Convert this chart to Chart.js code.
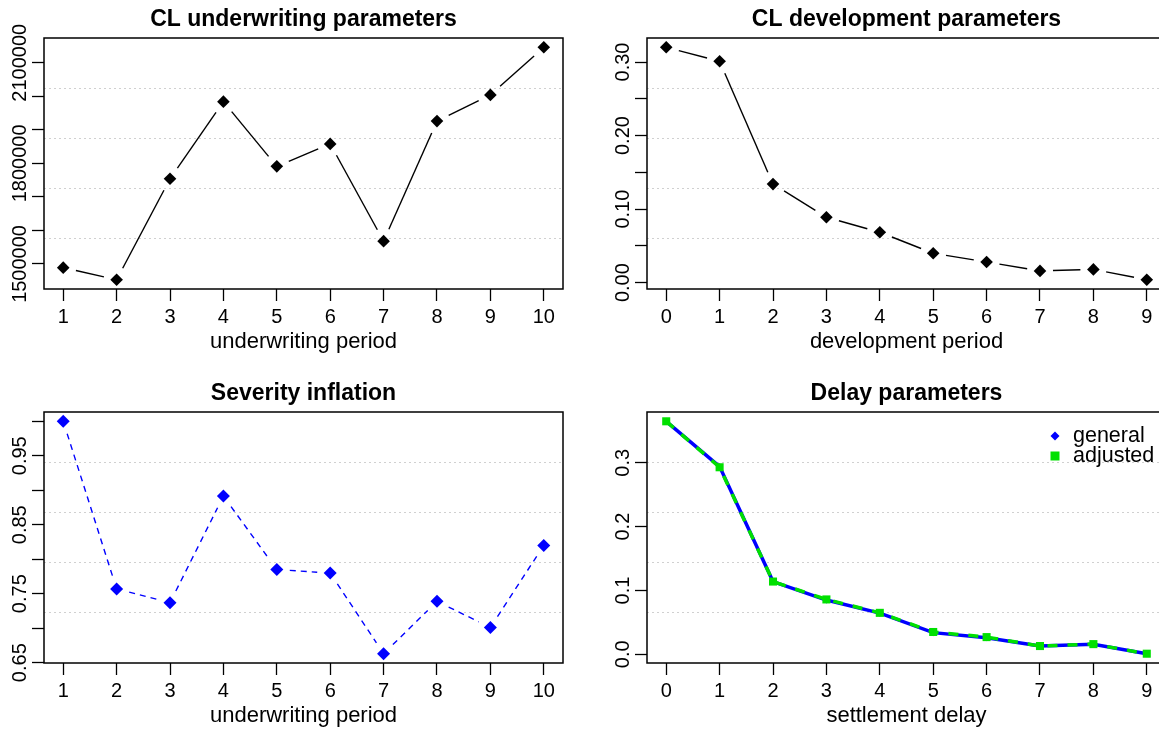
<!DOCTYPE html>
<html>
<head>
<meta charset="utf-8">
<script src="https://cdn.jsdelivr.net/npm/chart.js@4.4.1/dist/chart.umd.min.js"></script>
<style>
html, body { margin: 0; padding: 0; background: #fff; overflow: hidden; }
#page { position: relative; width: 1159px; height: 735px; overflow: hidden; }
canvas { position: absolute; }
</style>
</head>
<body>
<div id="page">
  <canvas id="c1" width="580" height="361" style="left:0;top:0"></canvas>
  <canvas id="c2" width="600" height="361" style="left:580px;top:0"></canvas>
  <canvas id="c3" width="580" height="361" style="left:0;top:374px"></canvas>
  <canvas id="c4" width="600" height="361" style="left:580px;top:374px"></canvas>
</div>
<script>
// data
const uwPeriods = [1, 2, 3, 4, 5, 6, 7, 8, 9, 10];
const devPeriods = [0, 1, 2, 3, 4, 5, 6, 7, 8, 9];

const clUnderwriting = [1489000, 1453000, 1754000, 1984000, 1791000, 1858000, 1568000, 1926000, 2004000, 2146000];
const clDevelopment = [0.320, 0.301, 0.134, 0.089, 0.0685, 0.040, 0.028, 0.016, 0.018, 0.004];
const severityInflation = [1.000, 0.757, 0.737, 0.8915, 0.785, 0.780, 0.663, 0.739, 0.701, 0.820];
const delayGeneral = [0.365, 0.294, 0.114, 0.085, 0.0645, 0.034, 0.026, 0.013, 0.0157, 0.001];
const delayAdjusted = [0.365, 0.293, 0.114, 0.086, 0.065, 0.035, 0.027, 0.013, 0.016, 0.001];

// y axis ticks and the labels R managed to print
const uwTicks = [1500000, 1600000, 1700000, 1800000, 1900000, 2000000, 2100000];
const uwTickLabels = ['1500000', '', '', '1800000', '', '', '2100000'];
const devTicks = [0, 0.05, 0.10, 0.15, 0.20, 0.25, 0.30];
const devTickLabels = ['0.00', '', '0.10', '', '0.20', '', '0.30'];
const sevTicks = [0.65, 0.70, 0.75, 0.80, 0.85, 0.90, 0.95, 1.00];
const sevTickLabels = ['0.65', '', '0.75', '', '0.85', '', '0.95', ''];
const delayTicks = [0, 0.1, 0.2, 0.3];
const delayTickLabels = ['0.0', '0.1', '0.2', '0.3'];

const FONT = "'Liberation Sans', Arial, Helvetica, sans-serif";
Chart.defaults.font.family = FONT;
Chart.defaults.font.size = 20;
Chart.defaults.color = '#000';

// R pads the data range by 4% on each side
const padRange = (vals) => {
    const lo = Math.min(...vals), hi = Math.max(...vals);
    const d = (hi - lo) * 0.04;
    return [lo - d, hi + d];
};

// type="b": segments stop short of the points
const gapLinePlugin = {
    id: 'gapLine',
    beforeDatasetsDraw(chart) {
        const ctx = chart.ctx, area = chart.chartArea;
        chart.data.datasets.forEach((ds, i) => {
            if (!ds.gapLine) return;
            const g = ds.gapLine;
            const pts = chart.getDatasetMeta(i).data;
            ctx.save();
            ctx.beginPath();
            ctx.rect(area.left, area.top, area.width, area.height);
            ctx.clip();
            ctx.strokeStyle = g.color;
            ctx.lineWidth = g.width;
            ctx.setLineDash(g.dash || []);
            for (let k = 1; k < pts.length; k++) {
                const a = pts[k - 1], b = pts[k];
                const dx = b.x - a.x, dy = b.y - a.y, len = Math.hypot(dx, dy);
                if (len <= 2 * g.gap) continue;
                const ux = dx / len, uy = dy / len;
                ctx.beginPath();
                ctx.moveTo(a.x + ux * g.gap, a.y + uy * g.gap);
                ctx.lineTo(b.x - ux * g.gap, b.y - uy * g.gap);
                ctx.stroke();
            }
            ctx.restore();
        });
    }
};

// box, rotated y labels, legend
const decorPlugin = {
    id: 'decor',
    afterDraw(chart, args, opts) {
        const {ctx, chartArea: a} = chart;
        const ys = chart.scales.y;
        ctx.save();
        ctx.setLineDash([]);
        ctx.strokeStyle = '#000';
        ctx.lineWidth = 1.5;
        ctx.strokeRect(a.left, a.top, a.width, a.height);

        ctx.fillStyle = '#000';
        ctx.font = '20px ' + FONT;
        ctx.textAlign = 'center';
        ctx.textBaseline = 'alphabetic';
        opts.labels.forEach((txt, i) => {
            if (!txt) return;
            ctx.save();
            ctx.translate(a.left - 18, ys.getPixelForValue(opts.values[i]));
            ctx.rotate(-Math.PI / 2);
            ctx.fillText(txt, 0, 0);
            ctx.restore();
        });

        if (opts.legend) {
            ctx.font = '21.5px ' + FONT;
            ctx.textAlign = 'left';
            ctx.textBaseline = 'middle';
            opts.legend.forEach((item, i) => {
                const y = a.top + 24 + i * 20;
                const x = a.right - 111;
                ctx.fillStyle = item.color;
                ctx.beginPath();
                if (item.shape === 'diamond') {
                    ctx.moveTo(x, y - 4.5); ctx.lineTo(x + 4.5, y); ctx.lineTo(x, y + 4.5); ctx.lineTo(x - 4.5, y);
                } else {
                    ctx.rect(x - 4.5, y - 4.5, 9, 9);
                }
                ctx.closePath();
                ctx.fill();
                ctx.fillStyle = '#000';
                ctx.fillText(item.text, a.right - 93, y);
            });
        }
        ctx.restore();
    }
};

const makePanel = (id, p) => {
    const [xlo, xhi] = padRange(p.xs);
    const [ylo, yhi] = padRange(p.series.flatMap(s => s.values));
    const datasets = p.series.map(s => Object.assign({
        data: p.xs.map((x, i) => ({x: x, y: s.values[i]})),
        fill: false,
        tension: 0,
        pointBorderWidth: 0
    }, s.style));

    new Chart(document.getElementById(id), {
        type: 'line',
        data: {datasets: datasets},
        options: {
            responsive: false,
            animation: false,
            events: [],
            layout: {padding: {left: 0, right: p.right, top: 0, bottom: 0}},
            scales: {
                x: {
                    type: 'linear', min: xlo, max: xhi,
                    afterBuildTicks: s => { s.ticks = p.xs.map(v => ({value: v})); },
                    afterFit: s => { s.height = 72; },
                    ticks: {color: '#000', padding: 4, maxRotation: 0, autoSkip: false, callback: v => String(v)},
                    grid: {drawOnChartArea: false, tickLength: 12, tickColor: '#000', tickWidth: 1.3},
                    border: {display: false},
                    title: {display: true, text: p.xTitle, color: '#000', font: {size: 22}, padding: {top: 0, bottom: 6}}
                },
                y: {
                    type: 'linear', min: ylo, max: yhi,
                    afterBuildTicks: s => { s.ticks = p.yTicks.map(v => ({value: v})); },
                    afterFit: s => { s.width = p.left; },
                    ticks: {callback: () => ''},
                    grid: {drawOnChartArea: false, tickLength: 12, tickColor: '#000', tickWidth: 1.3},
                    border: {display: false}
                },
                g: {
                    type: 'linear', position: 'right', display: true, min: 0, max: 5,
                    afterBuildTicks: s => { s.ticks = [1, 2, 3, 4].map(v => ({value: v})); },
                    afterFit: s => { s.width = 0; },
                    ticks: {display: false},
                    grid: {color: '#d0d0d0', lineWidth: 1, drawTicks: false},
                    border: {display: false, dash: [2, 3]}
                }
            },
            plugins: {
                legend: {display: false},
                tooltip: {enabled: false},
                title: {
                    display: true, text: p.title, color: '#000', fullSize: false,
                    font: {size: 23, weight: 'bold'}, padding: {top: 6, bottom: 4.4}
                },
                decor: {values: p.yTicks, labels: p.yLabels, legend: p.legend}
            }
        },
        plugins: [gapLinePlugin, decorPlugin]
    });
};

const blackPoints = {
    showLine: false, pointStyle: 'rectRot', pointRadius: 6.3,
    pointBackgroundColor: '#000', borderColor: '#000',
    gapLine: {color: '#000', width: 1.4, gap: 13}
};

makePanel('c1', {
    title: 'CL underwriting parameters', xTitle: 'underwriting period',
    xs: uwPeriods, yTicks: uwTicks, yLabels: uwTickLabels, left: 44, right: 17,
    series: [{values: clUnderwriting, style: blackPoints}]
});

makePanel('c2', {
    title: 'CL development parameters', xTitle: 'development period',
    xs: devPeriods, yTicks: devTicks, yLabels: devTickLabels, left: 67, right: 14,
    series: [{values: clDevelopment, style: blackPoints}]
});

makePanel('c3', {
    title: 'Severity inflation', xTitle: 'underwriting period',
    xs: uwPeriods, yTicks: sevTicks, yLabels: sevTickLabels, left: 44, right: 17,
    series: [{values: severityInflation, style: {
        showLine: false, pointStyle: 'rectRot', pointRadius: 6.5,
        pointBackgroundColor: '#0000ff', borderColor: '#0000ff',
        gapLine: {color: '#0000ff', width: 1.4, gap: 13, dash: [6, 5]}
    }}]
});

makePanel('c4', {
    title: 'Delay parameters', xTitle: 'settlement delay',
    xs: devPeriods, yTicks: delayTicks, yLabels: delayTickLabels, left: 67, right: 14,
    series: [
        {values: delayGeneral, style: {
            borderColor: '#0000ff', borderWidth: 3.5, order: 2,
            pointStyle: 'rectRot', pointRadius: 3.5, pointBackgroundColor: '#0000ff'
        }},
        {values: delayAdjusted, style: {
            borderColor: '#00e000', borderWidth: 3.5, borderDash: [10, 10], order: 1,
            pointStyle: 'rect', pointRadius: 5.7, pointBackgroundColor: '#00e000'
        }}
    ],
    legend: [
        {text: 'general', color: '#0000ff', shape: 'diamond'},
        {text: 'adjusted', color: '#00e000', shape: 'square'}
    ]
});
</script>
</body>
</html>
